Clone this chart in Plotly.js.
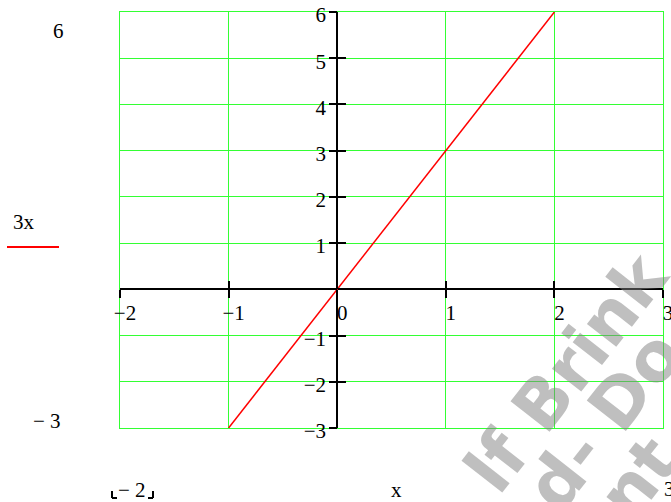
<!DOCTYPE html>
<html>
<head>
<meta charset="utf-8">
<script src="https://cdn.plot.ly/plotly-3.0.1.min.js"></script>
<style>
  html, body { margin: 0; padding: 0; background: #fff; }
  #plot { width: 671px; height: 502px; }
</style>
</head>
<body>
<div id="plot"></div>
<script>
// function 3x, sampled where the red line is drawn
const xVals = [-1, 0, 1, 2];
const yVals = [-3, 0, 3, 6];

const xRange = [-2, 3];
const yRange = [-3, 6];
const xTicks = [-2, -1, 0, 1, 2, 3];
const yTicks = [-3, -2, -1, 0, 1, 2, 3, 4, 5, 6];

const gridColor = '#33ff33';
const serif = 'Liberation Serif, Times New Roman, serif';
const fontSize = 21;

// plot area in pixels (for placing the loose mathcad labels)
const W = 671, H = 502;
const M = {l: 120, r: 8, t: 12, b: 74};
const px = (x) => (x - M.l) / (W - M.l - M.r);
const py = (y) => (H - M.b - y) / (H - M.t - M.b);

const minus = (v) => String(v).replace('-', '\u2212');

// where the axes cross (0, 0)
const xCross = (0 - yRange[0]) / (yRange[1] - yRange[0]);
const yCross = (0 - xRange[0]) / (xRange[1] - xRange[0]);

function tickAxis(range, vals, labels, pos, ticks, extra) {
	return Object.assign({
		range,
		anchor: 'free',
		position: pos,
		tickmode: 'array',
		tickvals: vals,
		ticktext: labels,
		ticks,
		ticklen: 8,
		tickwidth: 2,
		tickcolor: '#000',
		showticklabels: ticks === 'outside',
		ticklabeloverflow: 'allow',
		showgrid: false,
		zeroline: false,
		showline: false,
		tickfont: {family: serif, size: fontSize, color: '#000'},
	}, extra);
}

function label(text, x, y) {
	return {
		text, xref: 'paper', yref: 'paper', x: px(x), y: py(y),
		xanchor: 'center', yanchor: 'middle', showarrow: false,
		font: {family: serif, size: fontSize, color: '#000'},
	};
}

function watermark(text, x, y) {
	return {
		text: '<b>' + text + '</b>', xref: 'paper', yref: 'paper', x: px(x), y: py(y),
		xanchor: 'center', yanchor: 'middle', showarrow: false, textangle: -52,
		font: {family: 'DejaVu Sans', size: 68, color: 'rgba(128,128,128,0.5)'},
	};
}

function seg(x0, y0, x1, y1, color, width) {
	return {
		type: 'line', xref: 'paper', yref: 'paper',
		x0: px(x0), y0: py(y0), x1: px(x1), y1: py(y1),
		line: {color, width},
	};
}

const data = [
	{
		x: xVals, y: yVals,
		mode: 'lines',
		line: {color: '#ff0000', width: 1.5},
		hoverinfo: 'none',
	},
	{x: [], y: [], xaxis: 'x2', yaxis: 'y2', mode: 'lines', hoverinfo: 'none'},
	{x: [], y: [], xaxis: 'x3', yaxis: 'y3', mode: 'lines', hoverinfo: 'none'},
];

const layout = {
	width: W,
	height: H,
	paper_bgcolor: '#fff',
	plot_bgcolor: '#fff',
	showlegend: false,
	margin: M,
	xaxis: {
		range: xRange, dtick: 1, tick0: 0,
		showgrid: true, gridcolor: gridColor, gridwidth: 1,
		zeroline: true, zerolinecolor: '#000', zerolinewidth: 2,
		showline: true, linecolor: gridColor, linewidth: 1, mirror: true,
		showticklabels: false, ticks: '',
	},
	yaxis: {
		range: yRange, dtick: 1, tick0: 0,
		showgrid: true, gridcolor: gridColor, gridwidth: 1,
		zeroline: true, zerolinecolor: '#000', zerolinewidth: 2,
		showline: true, linecolor: gridColor, linewidth: 1, mirror: true,
		showticklabels: false, ticks: '',
	},
	xaxis2: tickAxis(xRange, xTicks, xTicks.map(minus), xCross, 'outside',
		{overlaying: 'x', side: 'bottom', ticklabelshift: 5, ticklabelstandoff: -4}),
	xaxis3: tickAxis(xRange, xTicks, xTicks.map(() => ''), xCross, 'inside',
		{overlaying: 'x', side: 'bottom'}),
	yaxis2: tickAxis(yRange, yTicks, yTicks.map(v => v === 0 ? '' : minus(v)), yCross, 'outside',
		{overlaying: 'y', side: 'left', ticklabelshift: 3, ticklabelstandoff: -1}),
	yaxis3: tickAxis(yRange, yTicks, yTicks.map(() => ''), yCross, 'inside',
		{overlaying: 'y', side: 'left'}),
	annotations: [
		watermark('lf Brink', 566, 372),
		watermark('d- Do', 604, 420),
		watermark('nt', 638, 478),
		label(String(yRange[1]), 58, 31),
		label('\u2212 ' + Math.abs(yRange[0]), 47, 421),
		label('3x', 24, 222),
		label('\u2212 ' + Math.abs(xRange[0]), 132, 490),
		label('x', 396, 490),
		label(String(xRange[1]), 669, 489),
	],
	shapes: [
		seg(7, 247, 59, 247, '#ff0000', 2),
		// placeholder corners around the lower x limit
		seg(112, 491, 112, 498, '#000', 2),
		seg(112, 498, 117, 498, '#000', 2),
		seg(153, 491, 153, 498, '#000', 2),
		seg(148, 498, 153, 498, '#000', 2),
	],
};

Plotly.newPlot('plot', data, layout, {staticPlot: true});
</script>
</body>
</html>
